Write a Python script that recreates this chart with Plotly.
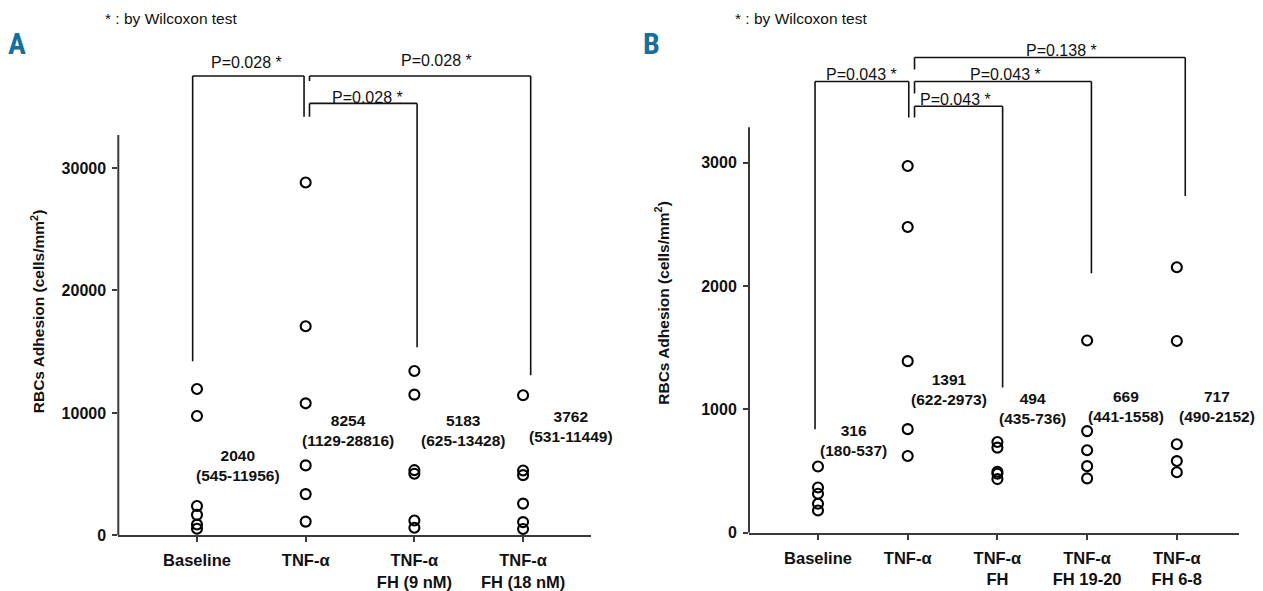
import plotly.graph_objects as go

# ---------------- data ----------------
cats_a = ["Baseline", "TNF-α", "TNF-α<br>FH (9 nM)", "TNF-α<br>FH (18 nM)"]
baseline_a = [11956, 9750, 2400, 1680, 900, 545]
tnf_a = [28816, 17075, 10785, 5720, 3375, 1129]
fh9_a = [13428, 11495, 5330, 5036, 1225, 625]
fh18_a = [11449, 5300, 4924, 2600, 1090, 531]
medians_a = ["2040<br>(545-11956)", "8254<br>(1129-28816)", "5183<br>(625-13428)", "3762<br>(531-11449)"]
ticks_a = [0, 10000, 20000, 30000]

cats_b = ["Baseline", "TNF-α", "TNF-α<br>FH", "TNF-α<br>FH 19-20", "TNF-α<br>FH 6-8"]
baseline_b = [537, 367, 316, 235, 180]
tnf_b = [2973, 2479, 1391, 840, 622]
fh_b = [736, 690, 494, 478, 435]
fh1920_b = [1558, 824, 669, 540, 441]
fh68_b = [2152, 1554, 717, 581, 490]
medians_b = ["316<br>(180-537)", "1391<br>(622-2973)", "494<br>(435-736)", "669<br>(441-1558)", "717<br>(490-2152)"]
ticks_b = [0, 1000, 2000, 3000]

pvals_a = ["P=0.028 *", "P=0.028 *", "P=0.028 *"]
pvals_b = ["P=0.043 *", "P=0.043 *", "P=0.043 *", "P=0.138 *"]

W, H = 1263, 591
OFF = 8          # page body margin offset
H_EFF = 581.5    # effective rendered figure height in the viewport
FONT = "Liberation Sans, Arial, sans-serif"
NARROW = "Roboto Condensed, Open Sans Condensed, Liberation Sans, sans-serif"
LINE = "#111111"
AX = "#3a3a3a"

fig = go.Figure()


def px_x(p):
    return (p - OFF) / W


def px_y(p):
    return 1 - (p - OFF) / H_EFF


# ---- panel A axes ----
xa_dom = [px_x(118.3), px_x(591)]
ya_dom = [px_y(535), px_y(40)]
xa_rng = [-0.724, 3.625]
ya_rng = [0, 40441]

# ---- panel B axes ----
xb_dom = [px_x(749), px_x(1239)]
yb_dom = [px_y(532.3), px_y(40)]
xb_rng = [-0.769, 4.693]
yb_rng = [0, 3994]

groups_a = [baseline_a, tnf_a, fh9_a, fh18_a]
groups_b = [baseline_b, tnf_b, fh_b, fh1920_b, fh68_b]

marker = dict(symbol="circle-open", size=10, color="black", line=dict(width=2.1, color="black"))

for i, g in enumerate(groups_a):
    fig.add_trace(go.Scatter(x=[i] * len(g), y=g, mode="markers", marker=marker,
                             xaxis="x", yaxis="y", showlegend=False, cliponaxis=False,
                             hoverinfo="y"))
for i, g in enumerate(groups_b):
    fig.add_trace(go.Scatter(x=[i] * len(g), y=g, mode="markers", marker=marker,
                             xaxis="x2", yaxis="y2", showlegend=False, cliponaxis=False,
                             hoverinfo="y"))

shapes = []
annots = []


def seg(xref, yref, x0, y0, x1, y1, color=LINE, width=1.6):
    shapes.append(dict(type="line", xref=xref, yref=yref, x0=x0, y0=y0, x1=x1, y1=y1,
                       line=dict(color=color, width=width)))


# y-axis lines (partial height as in reference)
seg("paper", "y", xa_dom[0], 0, xa_dom[0], 32680, color=AX, width=2)
seg("paper", "y2", xb_dom[0], 0, xb_dom[0], 3287, color=AX, width=2)

# ---- brackets panel A ----
seg("x", "y", -0.04, 14216, -0.04, 37500)
seg("x", "y", -0.04, 37500, 0.985, 37500)
seg("x", "y", 0.985, 37500, 0.985, 34175)
seg("x", "y", 1.035, 37500, 1.035, 37100)
seg("x", "y", 1.035, 37500, 3.07, 37500)
seg("x", "y", 3.07, 37500, 3.07, 13072)
seg("x", "y", 1.035, 35270, 1.035, 34175)
seg("x", "y", 1.035, 35270, 2.025, 35270)
seg("x", "y", 2.025, 35270, 2.025, 15360)

# ---- brackets panel B ----
seg("x2", "y2", -0.033, 838, -0.033, 3658)
seg("x2", "y2", -0.033, 3658, 1.012, 3658)
seg("x2", "y2", 1.012, 3658, 1.012, 3366)
seg("x2", "y2", 1.076, 3366, 1.076, 3457)
seg("x2", "y2", 1.076, 3457, 2.058, 3457)
seg("x2", "y2", 2.058, 3457, 2.058, 1178)
seg("x2", "y2", 1.076, 3560, 1.076, 3658)
seg("x2", "y2", 1.076, 3658, 3.048, 3658)
seg("x2", "y2", 3.048, 3658, 3.048, 2103)
seg("x2", "y2", 1.076, 3755, 1.076, 3852)
seg("x2", "y2", 1.076, 3852, 4.094, 3852)
seg("x2", "y2", 4.094, 3852, 4.094, 2730)

pfont = dict(family=FONT, size=16, color="#111")
for (x, y), t in zip([(0.458, 38643), (2.203, 38807), (1.573, 35784)], pvals_a):
    annots.append(dict(xref="x", yref="y", x=x, y=y, text=t, showarrow=False,
                       font=pfont, xanchor="center", yanchor="middle"))
for (x, y), t in zip([(0.483, 3717), (1.537, 3512), (2.089, 3717), (2.709, 3906)], pvals_b):
    annots.append(dict(xref="x2", yref="y2", x=x, y=y, text=t, showarrow=False,
                       font=pfont, xanchor="center", yanchor="middle"))


def bold_lines(t):
    return "<b>" + t.replace("<br>", "</b><br><b>") + "</b>"


mfont = dict(family=FONT, size=15.5, color="#111")
for (x, y), t in zip([(0.377, 5690), (1.389, 8590), (2.447, 8590), (3.44, 8915)], medians_a):
    annots.append(dict(xref="x", yref="y", x=x, y=y, text=bold_lines(t),
                       showarrow=False, font=mfont, xanchor="center", yanchor="middle"))
for (x, y), t in zip([(0.397, 749), (1.46, 1162), (2.388, 1008), (3.434, 1024), (4.45, 1024)], medians_b):
    annots.append(dict(xref="x2", yref="y2", x=x, y=y, text=bold_lines(t),
                       showarrow=False, font=mfont, xanchor="center", yanchor="middle"))

# Wilcoxon notes
for cx in [171, 801]:
    annots.append(dict(xref="paper", yref="paper", x=px_x(cx), y=px_y(18), text="* : by Wilcoxon test",
                       showarrow=False, font=dict(family=FONT, size=15.5, color="#111"),
                       xanchor="center", yanchor="middle"))
# panel letters
for cx, t in [(16.7, "A"), (651, "B")]:
    annots.append(dict(xref="paper", yref="paper", x=px_x(cx), y=px_y(43), text="<b>" + t + "</b>",
                       showarrow=False, font=dict(family=NARROW, size=30, color="#17709c"),
                       xanchor="center", yanchor="middle"))
# y titles
for cx, cy in [(38, 311), (662.5, 303)]:
    annots.append(dict(xref="paper", yref="paper", x=px_x(cx), y=px_y(cy),
                       text="<b>RBCs Adhesion (cells/mm<sup>2</sup>)</b>", textangle=-90,
                       showarrow=False, font=dict(family=FONT, size=15.5, color="#111"),
                       xanchor="center", yanchor="middle"))

xcommon = dict(showgrid=False, zeroline=False, showline=True, linecolor=AX, linewidth=2,
               ticks="outside", ticklen=5, tickwidth=1.5, tickcolor=AX,
               tickfont=dict(family=FONT, size=16.5, color="#111"), ticklabelstandoff=4)
ycommon = dict(showgrid=False, zeroline=False, showline=False,
               ticks="outside", ticklen=5, tickwidth=1.5, tickcolor=AX,
               tickfont=dict(family=FONT, size=16, color="#111"), ticklabelstandoff=3)

fig.update_layout(
    width=W, height=H, margin=dict(l=0, r=0, t=0, b=0),
    paper_bgcolor="white", plot_bgcolor="white", showlegend=False,
    xaxis=dict(domain=xa_dom, range=xa_rng, tickvals=list(range(len(cats_a))),
               ticktext=[bold_lines(c) for c in cats_a], anchor="y", **xcommon),
    yaxis=dict(domain=ya_dom, range=ya_rng, tickvals=ticks_a,
               ticktext=["<b>%d</b>" % v for v in ticks_a], anchor="x", **ycommon),
    xaxis2=dict(domain=xb_dom, range=xb_rng, tickvals=list(range(len(cats_b))),
                ticktext=[bold_lines(c) for c in cats_b], anchor="y2", **xcommon),
    yaxis2=dict(domain=yb_dom, range=yb_rng, tickvals=ticks_b,
                ticktext=["<b>%d</b>" % v for v in ticks_b], anchor="x2", **ycommon),
    shapes=shapes, annotations=annots,
)

fig.write_html("out.html")
